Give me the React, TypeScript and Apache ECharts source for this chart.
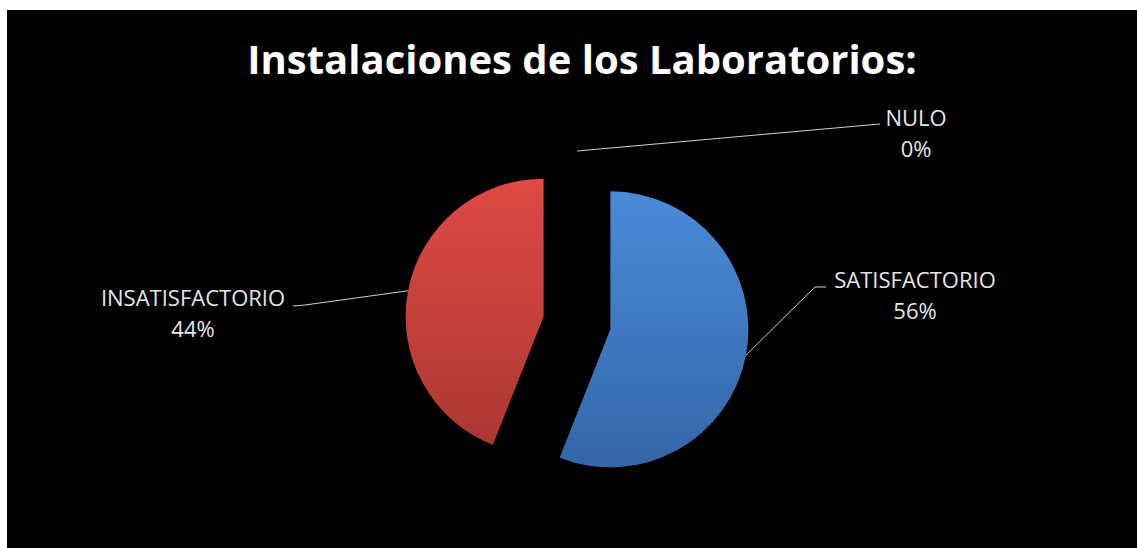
import React, { useEffect, useRef } from 'react';
import * as echarts from 'echarts';

const titleText = 'Instalaciones de los Laboratorios:';
const categories = ['SATISFACTORIO', 'INSATISFACTORIO', 'NULO'];
const values = [56, 44, 0];

const sliceColors = [
  ['#4a8bd9', '#3466a8'],
  ['#de4a45', '#ad3733'],
  ['#a6c563', '#86a046'],
];

// label placement (chart pixel coordinates): text centre, then knee / end of leader line
const labelPlacement = [
  { x: 908, y: 284, pts: [[808, 277], [819, 277]] },
  { x: 186, y: 302, pts: [[298, 295], [286, 296]] },
  { x: 909, y: 122, pts: [[873, 114]] },
];

const CENTER = [570, 313];
const RADIUS = 138;
const EXPLODE = 34;

export default function App() {
  const ref = useRef<HTMLDivElement>(null);
  useEffect(() => {
    const chart = echarts.init(ref.current!, null, { renderer: 'svg' });
    const total = values.reduce((a, b) => a + b, 0);
    let cum = 0;
    const mids = values.map((v) => {
      const m = ((cum + v / 2) / total) * Math.PI * 2;
      cum += v;
      return m;
    });
    const series = categories.map((_, k) => ({
      type: 'pie',
      name: categories[k],
      center: [CENTER[0] + EXPLODE * Math.sin(mids[k]), CENTER[1] - EXPLODE * Math.cos(mids[k])],
      radius: RADIUS,
      startAngle: 90,
      clockwise: true,
      selectedMode: false,
      avoidLabelOverlap: false,
      silent: true,
      emphasis: { disabled: true },
      labelLayout: (p: any) => {
        if (p.dataIndex !== k) return {};
        const L = labelPlacement[k];
        const a = p.labelLinePoints ? p.labelLinePoints[0] : L.pts[0];
        return {
          x: L.x,
          y: L.y,
          align: 'center',
          verticalAlign: 'middle',
          labelLinePoints: [a, ...L.pts],
        };
      },
      data: categories.map((c, i) => ({
        name: c,
        value: values[i],
        itemStyle:
          i === k
            ? {
                color: new echarts.graphic.LinearGradient(0, 0, 0, 1, [
                  { offset: 0, color: sliceColors[i][0] },
                  { offset: 1, color: sliceColors[i][1] },
                ]),
              }
            : { color: 'rgba(0,0,0,0)' },
        label:
          i === k
            ? {
                show: true,
                position: 'outside',
                formatter: '{b}\n{d}%',
                color: '#e6e6e6',
                fontFamily: 'Open Sans',
                fontSize: 22,
                lineHeight: 31,
                align: 'center',
              }
            : { show: false },
        labelLine:
          i === k
            ? { show: true, lineStyle: { color: '#d0d0d0', width: 1 } }
            : { show: false },
      })),
    }));
    chart.setOption({
      animation: false,
      backgroundColor: '#000',
      title: {
        text: titleText,
        left: 575,
        top: 28,
        padding: 0,
        textAlign: 'center',
        textStyle: {
          fontFamily: 'Open Sans',
          fontWeight: 'bold',
          fontSize: 40,
          lineHeight: 40,
          color: '#ffffff',
        },
      },
      series,
    });
    return () => chart.dispose();
  }, []);
  return (
    <div style={{ position: 'fixed', left: 0, top: 0, width: 1137, height: 548, background: '#fff' }}>
      <div ref={ref} style={{ position: 'absolute', left: 7, top: 10, width: 1130, height: 538 }} />
    </div>
  );
}
